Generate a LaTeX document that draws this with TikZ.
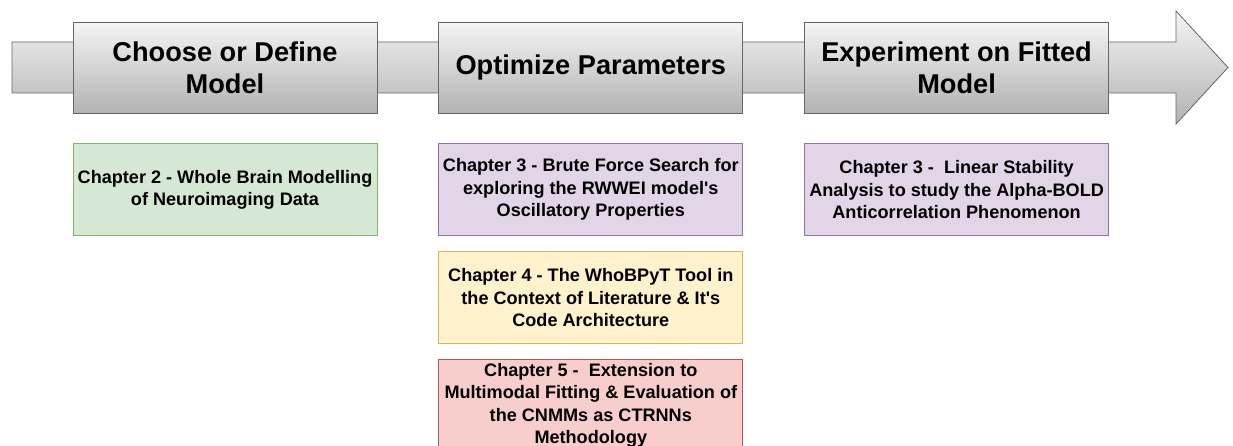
\documentclass[tikz,border=0pt]{standalone}
\usepackage{fontspec}
\setmainfont{Liberation Sans}
\usetikzlibrary{positioning}

\definecolor{stagedraw}{HTML}{666666}
\definecolor{greenfill}{HTML}{D5E8D4}
\definecolor{greendraw}{HTML}{82B366}
\definecolor{purplefill}{HTML}{E1D5E7}
\definecolor{purpledraw}{HTML}{9673A6}
\definecolor{yellowfill}{HTML}{FFF2CC}
\definecolor{yellowdraw}{HTML}{D6B656}
\definecolor{redfill}{HTML}{F8CECC}
\definecolor{reddraw}{HTML}{B85450}

\begin{document}
\begin{tikzpicture}[
    x=1pt, y=-1pt,
    stage/.style={draw=stagedraw, thick, top color=gray!8, bottom color=gray!60, minimum width=304pt, minimum height=91pt, align=center, font=\fontsize{27.2}{32}\selectfont\bfseries, inner sep=2pt},
    chapter/.style={draw=#1draw, thick, fill=#1fill, minimum width=304pt, minimum height=92pt, align=center, font=\fontsize{18.1}{22.5}\selectfont\bfseries, inner sep=2pt},
    node distance=61pt
]
\useasboundingbox (0,0) rectangle (1233,446);
\clip (0,0) rectangle (1233,446);

% Timeline arrow
\draw[stagedraw, thick, top color=gray!8, bottom color=gray!60]
    (12,42) -- (1176,42) -- (1176,11) -- (1228,67.5) -- (1176,124) -- (1176,93) -- (12,93) -- cycle;

% Stages
\node[stage] (model) at (225,67.5) {Choose or Define\\Model};
\node[stage, right=of model] (optimize) {Optimize Parameters};
\node[stage, right=of optimize] (experiment) {Experiment on Fitted\\Model};

% Chapters
\node[chapter=green, below=30pt of model] (ch2) {Chapter 2 - Whole Brain Modelling\\of Neuroimaging Data};
\node[chapter=purple, below=30pt of optimize] (ch3a) {Chapter 3 - Brute Force Search for\\exploring the RWWEI model\textquotesingle s\\Oscillatory Properties};
\node[chapter=yellow, below=15pt of ch3a] (ch4) {Chapter 4 - The WhoBPyT Tool in\\the Context of Literature \& It\textquotesingle s\\Code Architecture};
\node[chapter=red, below=15pt of ch4] (ch5) {Chapter 5 -\ \ Extension to\\Multimodal Fitting \& Evaluation of\\the CNMMs as CTRNNs\\Methodology};
\node[chapter=purple, below=30pt of experiment] (ch3b) {Chapter 3 -\ \ Linear Stability\\Analysis to study the Alpha-BOLD\\Anticorrelation Phenomenon};

\end{tikzpicture}
\end{document}
